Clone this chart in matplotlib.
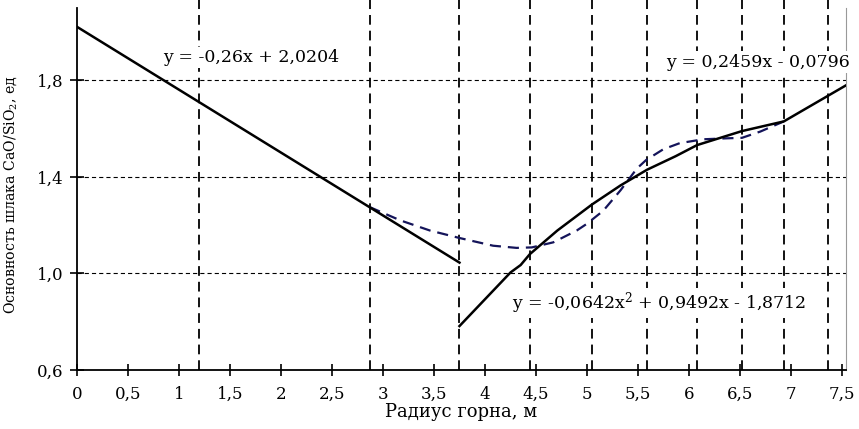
import matplotlib

matplotlib.use("Agg")
import matplotlib.pyplot as plt

plt.rcParams.update({
    "font.family": "DejaVu Serif",
    "font.size": 12.5,
    "mathtext.fontset": "custom",
    "mathtext.rm": "DejaVu Serif",
    "mathtext.it": "DejaVu Serif",
    "lines.scale_dashes": False,
})

# measurement radii (vertical dashed lines), m
radii = [1.2, 2.87, 3.75, 4.44, 5.05, 5.59, 6.08, 6.52, 6.93, 7.36]

# black trend line, part 1 (linear, 0..3.75 m)
fit1_x = [0.0, 3.75]
fit1_y = [2.022, 1.045]

# black trend line, part 2 (quadratic then linear, 3.75..7.55 m)
fit2_x = [3.75, 4.25, 4.35, 4.44, 4.71, 5.05, 5.33, 5.59, 5.87, 6.08, 6.52,
          6.93, 7.35, 7.55]
fit2_y = [0.782, 1.004, 1.035, 1.08, 1.178, 1.286, 1.365, 1.43, 1.486, 1.532,
          1.59, 1.63, 1.733, 1.782]

# blue dashed measured curve
meas_x = [2.87, 3.17, 3.46, 3.75, 4.08, 4.31, 4.46, 4.67, 4.9, 5.0, 5.16,
          5.33, 5.49, 5.58, 5.75, 5.91, 6.14, 6.37, 6.52, 6.7, 6.93]
meas_y = [1.275, 1.22, 1.178, 1.147, 1.115, 1.106, 1.108, 1.129, 1.178,
          1.206, 1.26, 1.345, 1.435, 1.47, 1.515, 1.54, 1.556, 1.56, 1.562,
          1.588, 1.63]

x_ticks = [0, 0.5, 1, 1.5, 2, 2.5, 3, 3.5, 4, 4.5, 5, 5.5, 6, 6.5, 7, 7.5]
y_ticks = [0.6, 1.0, 1.4, 1.8]

fig = plt.figure(figsize=(8.59, 4.29), dpi=100)
ax = fig.add_axes([77 / 859, 1 - 370 / 429, 769 / 859, 362 / 429])
ax.set_xlim(0, 7.54)
ax.set_ylim(0.6, 2.1)

# grid
for y in y_ticks[1:]:
    ax.axhline(y, color="black", lw=0.8, dashes=(3, 2.2), zorder=1)
ax.vlines(radii, 0.6, 2.135, color="black", lw=1.3, linestyles=(0, (7, 4.3)),
          clip_on=False, zorder=1)

ax.plot(meas_x, meas_y, color="#14145a", lw=1.6, dashes=(8, 5), zorder=2)
ax.plot(fit1_x, fit1_y, color="black", lw=1.8, zorder=3)
ax.plot(fit2_x, fit2_y, color="black", lw=1.8, zorder=3)

box = dict(facecolor="white", edgecolor="none", pad=1.5)
ax.text(0.84, 1.896, "y = -0,26x + 2,0204", va="center", ha="left",
        bbox=box, zorder=4)
ax.text(5.78, 1.876, "y = 0,2459x - 0,0796", va="center", ha="left",
        bbox=box, zorder=4, clip_on=False)
ax.text(4.265, 0.879, "y = -0,0642x$^2$ + 0,9492x - 1,8712", va="center",
        ha="left", bbox=box, zorder=4)

ax.set_xticks(x_ticks)
ax.set_xticklabels([f"{t:g}".replace(".", ",") for t in x_ticks])
ax.set_yticks(y_ticks)
ax.set_yticklabels([f"{t:.1f}".replace(".", ",") for t in y_ticks])
ax.tick_params(axis="x", direction="inout", length=9, width=1.2, pad=7,
               labelsize=12)
ax.tick_params(axis="y", direction="inout", length=10, width=1.2, pad=5,
               labelsize=12)

ax.spines["top"].set_visible(False)
ax.spines["right"].set_color("#999999")
ax.spines["left"].set_linewidth(1.3)
ax.spines["bottom"].set_linewidth(1.3)

ax.set_xlabel("Радиус горна, м", labelpad=0, fontsize=13)
ax.set_ylabel("Основность шлака CaO/SiO$_2$, ед", fontsize=10.2)
ax.yaxis.set_label_coords(-0.076, 0.485)

fig.savefig("out.png", dpi=100)
